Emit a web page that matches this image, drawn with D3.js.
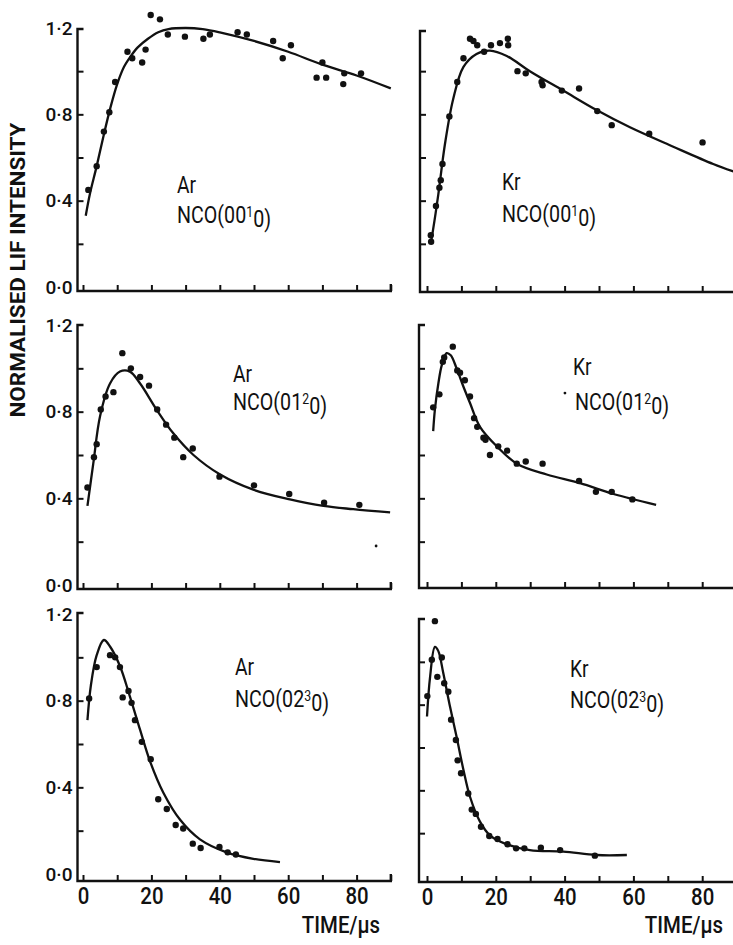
<!DOCTYPE html>
<html><head><meta charset="utf-8">
<script src="https://cdn.jsdelivr.net/npm/d3@7"></script>
<style>
html,body{margin:0;padding:0;background:#fff;}
svg{display:block;}
</style></head><body>
<svg id="c" width="733" height="945"></svg>
<script>
// ---------- data ----------
const gases = ["Ar", "Kr"];
const stateBase = ["NCO(00", "NCO(01", "NCO(02"];
const stateSup = ["1", "2", "3"];
const timeTicks = [0, 20, 40, 60, 80];
const yTickLabels = [0, 0.4, 0.8, 1.2];
const yAxisTitle = "NORMALISED LIF INTENSITY";
const xAxisTitle = "TIME/\u00b5s";

const arPts0010 = [[1.55,0.45],[4.0,0.56],[6.1,0.72],[7.7,0.81],[9.4,0.95],[13.0,1.09],[14.4,1.06],[17.3,1.04],[18.3,1.10],[19.8,1.26],[22.5,1.24],[24.8,1.17],[29.8,1.16],[35.2,1.15],[37.1,1.17],[45.2,1.18],[47.9,1.17],[55.6,1.14],[58.4,1.06],[60.8,1.12],[68.3,0.97],[70.0,1.04],[71.1,0.97],[76.1,0.94],[76.4,0.99],[81.3,0.99]];
const arFit0010 = [[0.8,0.33],[2,0.43],[4,0.56],[6,0.70],[8,0.83],[10,0.94],[12,1.02],[14,1.07],[16,1.11],[19,1.15],[22,1.18],[25,1.195],[30,1.20],[35,1.195],[40,1.18],[50,1.14],[60,1.09],[70,1.03],[80,0.98],[90,0.92]];

const krPts0010 = [[1.1,0.24],[1.2,0.21],[2.6,0.375],[3.6,0.46],[4.0,0.495],[4.5,0.57],[6.5,0.79],[8.8,0.95],[10.6,1.06],[12.5,1.15],[13.5,1.14],[14.6,1.12],[16.6,1.09],[18.6,1.12],[21.2,1.13],[23.5,1.15],[23.6,1.12],[26.3,1.00],[28.7,0.99],[33.3,0.95],[33.6,0.935],[39.2,0.91],[44.2,0.92],[49.5,0.815],[53.7,0.75],[64.6,0.71],[80.1,0.67]];
const krFit0010 = [[1.1,0.20],[2.2,0.31],[3.3,0.43],[5.2,0.66],[7.6,0.87],[10.6,1.02],[14.4,1.08],[18.3,1.095],[23.2,1.07],[29.9,1.00],[39.6,0.91],[49.3,0.82],[59,0.74],[71.6,0.65],[83.2,0.57],[90,0.53]];

const arPts0120 = [[1.3,0.45],[3.2,0.59],[4.0,0.65],[5.2,0.81],[6.6,0.87],[8.9,0.89],[11.5,1.07],[14.0,1.00],[16.7,0.96],[19.3,0.92],[21.7,0.81],[24.3,0.74],[26.7,0.68],[29.3,0.59],[32.1,0.63],[39.9,0.50],[50.0,0.46],[60.3,0.42],[70.5,0.38],[80.8,0.37]];
const arFit0120 = [[1.3,0.365],[3.0,0.56],[5.0,0.78],[7.9,0.93],[10.8,0.985],[13.7,0.985],[16.7,0.93],[21.5,0.81],[26.4,0.70],[32.3,0.60],[40.1,0.51],[49.8,0.44],[60.5,0.395],[70.3,0.365],[79,0.35],[89.8,0.335]];
const arStray0120 = [[85.7,0.18]];

const krPts0120 = [[1.8,0.82],[3.6,0.88],[4.6,1.03],[5.0,1.05],[7.5,1.10],[8.8,0.99],[9.6,0.98],[11.0,0.945],[12.5,0.87],[13.7,0.77],[14.6,0.73],[16.4,0.68],[17.0,0.67],[18.3,0.60],[20.7,0.64],[23.3,0.62],[26.1,0.56],[28.7,0.57],[33.6,0.56],[44.2,0.48],[49.1,0.43],[53.7,0.43],[59.7,0.395]];
const krFit0120 = [[1.8,0.71],[2.3,0.81],[3.3,0.93],[4.3,1.015],[5.7,1.07],[6.9,1.06],[8.6,1.00],[10.6,0.915],[12.5,0.84],[15.4,0.73],[20.3,0.64],[26.1,0.56],[34.8,0.51],[44.5,0.47],[54.2,0.42],[66.6,0.37]];
const krStray0120 = [[40.1,0.886]];

const arPts0230 = [[1.8,0.81],[4.0,0.955],[7.9,1.01],[9.4,1.00],[10.8,0.955],[11.6,0.815],[13.3,0.845],[14.2,0.79],[15.2,0.71],[17.2,0.61],[19.8,0.53],[22.0,0.345],[24.5,0.30],[27.1,0.226],[29.3,0.21],[32.1,0.14],[34.4,0.12],[39.9,0.125],[42.3,0.10],[44.7,0.09]];
const arFit0230 = [[1.3,0.71],[2.3,0.87],[4.0,1.01],[6.1,1.08],[7.9,1.05],[10.8,0.96],[13.7,0.82],[16.7,0.665],[19.6,0.52],[23.5,0.375],[28.4,0.25],[34.2,0.16],[42,0.10],[49.8,0.07],[57.6,0.055]];

const krPts0230 = [[0.1,0.84],[1.4,1.01],[2.3,1.19],[3.0,0.93],[4.3,1.02],[5.0,0.90],[6.2,0.86],[7.0,0.73],[8.4,0.635],[8.9,0.54],[9.9,0.48],[12.0,0.385],[13.0,0.31],[14.2,0.29],[15.7,0.23],[18.1,0.187],[20.5,0.173],[23.4,0.148],[25.9,0.129],[28.3,0.129],[33.1,0.132],[38.7,0.121],[48.8,0.095]];
const krFit0230 = [[0,0.745],[0.9,0.93],[2.3,1.07],[3.3,1.05],[4.7,0.95],[6.7,0.79],[8.6,0.65],[10.6,0.495],[12.5,0.37],[15.4,0.254],[18.3,0.19],[23.2,0.148],[29.9,0.121],[39.6,0.114],[49.3,0.098],[58.1,0.098]];

// ---------- layout ----------
const FONT = 'Roboto,"Liberation Sans",sans-serif';
const INK = "#111";
const panels = [
  {pts:arPts0010, fit:arFit0010, stray:[], gas:0, st:0, xr:[83,390.8], yr:[287,28], base:291, top:29, ax:77.5, gXY:[177,193], sXY:[177,223], yLab:true, xLab:false},
  {pts:krPts0010, fit:krFit0010, stray:[], gas:1, st:0, xr:[427,736.6], yr:[287,28], base:292, top:31, ax:420, gXY:[502,190], sXY:[502,222], yLab:false, xLab:false},
  {pts:arPts0120, fit:arFit0120, stray:arStray0120, gas:0, st:1, xr:[83,390.8], yr:[585,325], base:589, top:325, ax:77.5, gXY:[233,382], sXY:[233,410], yLab:true, xLab:false},
  {pts:krPts0120, fit:krFit0120, stray:krStray0120, gas:1, st:1, xr:[427,736.6], yr:[585,325], base:588, top:325, ax:419, gXY:[573,375], sXY:[575,410], yLab:false, xLab:false},
  {pts:arPts0230, fit:arFit0230, stray:[], gas:0, st:2, xr:[83,390.8], yr:[874,614], base:881, top:613, ax:77.5, gXY:[235,675], sXY:[235,707], yLab:true, xLab:true},
  {pts:krPts0230, fit:krFit0230, stray:[], gas:1, st:2, xr:[427,736.6], yr:[876,619], base:882, top:619, ax:419, gXY:[570,677], sXY:[570,708], yLab:false, xLab:true}
];

const svg = d3.select("#c");
const fmtY = v => d3.format(".1f")(v).replace(".", "\u00b7");

panels.forEach(p => {
  const x = d3.scaleLinear().domain([0, 90]).range(p.xr);
  const y = d3.scaleLinear().domain([0, 1.2]).range(p.yr);
  const g = svg.append("g");

  // frame (y axis with top hook, x axis with end tick)
  g.append("path")
    .attr("d", `M${p.ax + 6},${p.top}H${p.ax}V${p.base}H${x(90)}V${p.base - 7}`)
    .attr("fill", "none").attr("stroke", INK).attr("stroke-width", 2.4);

  // x axis ticks
  const xa = d3.axisBottom(x).tickValues(d3.range(0, 91, 10)).tickSize(-6).tickPadding(6)
    .tickFormat(d => (p.xLab && timeTicks.includes(d)) ? d : "");
  const gx = g.append("g").attr("transform", `translate(0,${p.base})`).call(xa);
  gx.select(".domain").remove();
  gx.selectAll("line").attr("stroke", INK).attr("stroke-width", 2);
  gx.selectAll("text").attr("font-family", FONT).attr("font-size", 24).attr("fill", INK)
    .attr("font-weight", 500).attr("transform", "scale(0.85,1)");

  // y axis ticks
  const ya = d3.axisLeft(y).tickValues(d3.range(0, 7).map(i => i * 0.2)).tickSize(-6).tickPadding(5)
    .tickFormat(d => (p.yLab && yTickLabels.some(v => Math.abs(v - d) < 1e-6)) ? fmtY(d) : "");
  const gy = g.append("g").attr("transform", `translate(${p.ax},0)`).call(ya);
  gy.select(".domain").remove();
  gy.selectAll("line").attr("stroke", INK).attr("stroke-width", 2)
    .filter(d => d < 0.01 || d > 1.19).remove();
  gy.selectAll("text").attr("font-family", FONT).attr("font-size", 19).attr("fill", INK)
    .attr("font-weight", 500);

  // fitted curve
  g.append("path").datum(p.fit)
    .attr("d", d3.line().x(d => x(d[0])).y(d => y(d[1])).curve(d3.curveCatmullRom.alpha(0.5)))
    .attr("fill", "none").attr("stroke", INK).attr("stroke-width", 2.3).attr("stroke-linejoin", "round");

  // points
  g.selectAll("circle.pt").data(p.pts).join("circle").attr("class", "pt")
    .attr("cx", d => x(d[0])).attr("cy", d => y(d[1])).attr("r", 3.2).attr("fill", INK);
  g.selectAll("circle.st").data(p.stray).join("circle").attr("class", "st")
    .attr("cx", d => x(d[0])).attr("cy", d => y(d[1])).attr("r", 1.4).attr("fill", INK);

  // annotations
  g.append("text").attr("transform", `translate(${p.gXY[0]},${p.gXY[1]}) scale(0.8,1)`)
    .attr("font-family", FONT).attr("font-size", 24).attr("fill", INK).text(gases[p.gas]);
  const t = g.append("text").attr("transform", `translate(${p.sXY[0]},${p.sXY[1]}) scale(0.82,1)`)
    .attr("font-family", FONT).attr("font-size", 24).attr("fill", INK);
  t.append("tspan").text(stateBase[p.st]);
  t.append("tspan").attr("dy", "-0.42em").attr("font-size", 15).text(stateSup[p.st]);
  t.append("tspan").attr("dy", "0.42em").text("0)");

  if (p.xLab) {
    g.append("text").attr("transform", `translate(${p.xr[0] === 83 ? 380 : 723},933) scale(0.85,1)`)
      .attr("text-anchor", "end").attr("font-family", FONT).attr("font-size", 24).attr("fill", INK)
      .attr("font-weight", 500).text(xAxisTitle);
  }
});

svg.append("text").attr("transform", "translate(25,270) rotate(-90)")
  .attr("text-anchor", "middle").attr("font-family", FONT).attr("font-weight", "bold")
  .attr("font-size", 20).attr("fill", INK).attr("textLength", 295).attr("lengthAdjust", "spacingAndGlyphs")
  .text(yAxisTitle);
</script>
</body></html>
